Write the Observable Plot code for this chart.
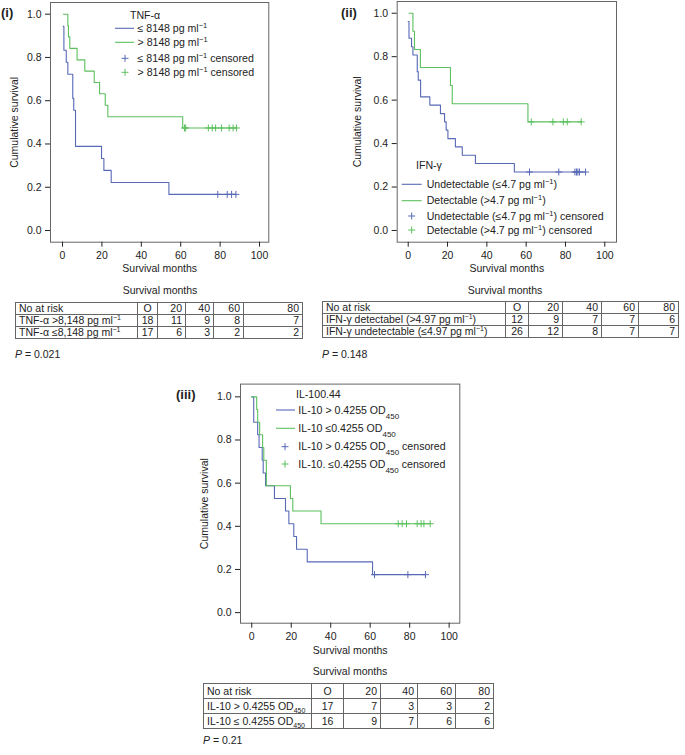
<!DOCTYPE html>
<html><head><meta charset="utf-8">
<script src="https://cdn.jsdelivr.net/npm/d3@7"></script>
<script src="https://cdn.jsdelivr.net/npm/@observablehq/plot@0.6"></script>
<style>
body{margin:0;width:685px;height:755px;position:relative;background:#fff;font-family:"Liberation Sans",Arial,sans-serif;color:#222;overflow:hidden}
.abs{position:absolute}
.plab{position:absolute;font-weight:bold;font-size:13px;line-height:13px}
table.risk{position:absolute;border-collapse:collapse;font-size:10.5px;table-layout:fixed}
table.risk td{border:1px solid #666;padding:0 3px;line-height:11px;text-align:right;white-space:nowrap;overflow:visible}
table.risk td:first-child{text-align:left}
table.risk td.c{text-align:center}
table.risk sup,table.risk sub{font-size:7px;line-height:0}
.cap{position:absolute;font-size:10.5px;line-height:10px;white-space:nowrap}
</style></head><body>
<script>
// ---------- data ----------
const xTicks = [0, 20, 40, 60, 80, 100];
const yTicks = [0, 0.2, 0.4, 0.6, 0.8, 1.0];
const riskMonths = ["O", "20", "40", "60", "80"];

// Panel (i) TNF-alpha
const tnfHighT = [0.5, 2.7, 3.0, 3.7, 7.4, 11.3, 16.1, 18.8, 21.7, 23.0, 61.0, 88.5];
const tnfHighS = [1.0, 0.947, 0.895, 0.842, 0.789, 0.737, 0.684, 0.632, 0.579, 0.526, 0.474, 0.474];
const tnfHighCens = [61.9, 62.5, 74.0, 76.0, 77.7, 80.7, 84.6, 86.6, 88.3];
const tnfLowT = [0.3, 0.7, 1.9, 2.7, 5.2, 5.7, 6.6, 19.8, 21.0, 24.7, 54.0, 88.0];
const tnfLowS = [0.944, 0.833, 0.778, 0.722, 0.611, 0.556, 0.389, 0.333, 0.278, 0.222, 0.167, 0.167];
const tnfLowCens = [78.8, 83.6, 85.8, 88.0];
const tnfRiskLabels = ["TNF-α >8,148 pg ml^{−1}", "TNF-α ≤8,148 pg ml^{−1}"];
const tnfRiskHigh = [18, 11, 9, 8, 7];
const tnfRiskLow = [17, 6, 3, 2, 2];
const tnfP = "0.021";

// Panel (ii) IFN-gamma
const ifnDetT = [0.4, 2.4, 3.2, 6.2, 21.5, 22.4, 60.9, 88.0];
const ifnDetS = [1.0, 0.917, 0.833, 0.75, 0.667, 0.583, 0.5, 0.5];
const ifnDetCens = [62.6, 73.6, 78.9, 80.9, 88.0];
const ifnUndT = [0, 0.4, 1.7, 2.4, 4.6, 5.1, 6.3, 11.0, 16.4, 18.5, 19.3, 20.2, 24.0, 27.5, 34.2, 54.0, 90.2];
const ifnUndS = [0.962, 0.885, 0.846, 0.808, 0.731, 0.692, 0.615, 0.577, 0.538, 0.5, 0.462, 0.423, 0.385, 0.346, 0.308, 0.269, 0.269];
const ifnUndCens = [61.7, 76.6, 84.8, 85.6, 86.3, 87.1, 90.2];
const ifnRiskLabels = ["IFN-γ detectabel (>4.97 pg ml^{−1})", "IFN-γ undetectable (≤4.97 pg ml^{−1})"];
const ifnRiskDet = [12, 9, 7, 7, 6];
const ifnRiskUnd = [26, 12, 8, 7, 7];
const ifnP = "0.148";

// Panel (iii) IL-10
const ilHighT = [0, 1.0, 3.0, 3.7, 5.3, 5.8, 7.0, 11.5, 17.1, 18.8, 21.3, 22.7, 28.1, 61.2, 88.0];
const ilHighS = [1.0, 0.882, 0.824, 0.765, 0.706, 0.647, 0.588, 0.529, 0.471, 0.412, 0.353, 0.294, 0.235, 0.176, 0.176];
const ilHighCens = [62.2, 79.1, 88.0];
const ilLowT = [0, 2.5, 3.0, 4.0, 5.5, 6.1, 7.4, 19.6, 20.8, 35.1, 90.4];
const ilLowS = [1.0, 0.941, 0.882, 0.824, 0.765, 0.706, 0.588, 0.529, 0.471, 0.412, 0.412];
const ilLowCens = [74.2, 76.2, 78.4, 83.8, 85.8, 87.2, 90.4];
const ilRiskLabels = ["IL-10 > 0.4255 OD_{450}", "IL-10 ≤ 0.4255 OD_{450}"];
const ilRiskHigh = [17, 7, 3, 3, 2];
const ilRiskLow = [16, 9, 7, 6, 6];
const ilP = "0.21";

const BLUE = "#5869b6", GREEN = "#5cc05e";

// ---------- helpers ----------
function curve(T, S) { return T.map((t, i) => ({t, s: S[i]})); }
function cens(T, S, C) { return C.map(t => ({t, s: S[Math.max(0, d3.bisectRight(T, t) - 1)]})); }
function rich(sel, str) {
  str.split(/(\^\{[^}]*\}|_\{[^}]*\})/).forEach(p => {
    if (!p) return;
    if (p.startsWith("^{")) sel.append("tspan").attr("baseline-shift", "super").attr("font-size", "7.5px").text(p.slice(2, -1));
    else if (p.startsWith("_{")) sel.append("tspan").attr("baseline-shift", "sub").attr("font-size", "8px").text(p.slice(2, -1));
    else sel.append("tspan").text(p);
  });
}
function richHTML(str) {
  return str.replace(/\^\{([^}]*)\}/g, "<sup>$1</sup>").replace(/_\{([^}]*)\}/g, "<sub>$1</sub>");
}

function panel(o) {
  const marks = [
    Plot.frame({stroke: "#666"}),
    Plot.axisX({ticks: xTicks, tickSize: 5, label: "Survival months", labelAnchor: "center", labelArrow: "none", labelOffset: o.xLabelOffset}),
    Plot.axisY({ticks: yTicks, tickSize: 5, tickFormat: ".1f", label: "Cumulative survival", labelAnchor: "center", labelArrow: "none", labelOffset: o.yLabelOffset})
  ];
  for (const s of o.series) {
    marks.push(Plot.line(curve(s.T, s.S), {x: "t", y: "s", curve: "step-after", stroke: s.color, strokeWidth: 1.1}));
    marks.push(Plot.dot(cens(s.T, s.S, s.C), {x: "t", y: "s", symbol: "plus", r: 2.4, stroke: s.color, strokeWidth: 1}));
  }
  const svg = Plot.plot({
    width: o.width, height: o.height,
    marginLeft: o.ml, marginRight: o.mr, marginTop: o.mt, marginBottom: o.mb,
    x: {domain: o.xd}, y: {domain: o.yd},
    style: {fontFamily: '"Liberation Sans", Arial, sans-serif', fontSize: "10.5px", color: "#222", background: "transparent", overflow: "visible"},
    marks
  });
  const div = document.createElement("div");
  div.className = "abs";
  div.style.left = o.left + "px"; div.style.top = o.top + "px";
  div.appendChild(svg);
  document.body.appendChild(div);
  // legend
  const g = d3.select(svg).append("g").attr("font-size", "10.6px").attr("fill", "#222").attr("text-anchor", "start");
  const L = o.legend;
  g.append("text").attr("x", L.titleX - o.left).attr("y", L.titleY - o.top).attr("dy", "0.35em").text(L.title);
  L.items.forEach((it, i) => {
    const y = L.ys[i] - o.top;
    if (it.kind === "line") g.append("line").attr("x1", L.lx1 - o.left).attr("x2", L.lx2 - o.left).attr("y1", y).attr("y2", y).attr("stroke", it.color).attr("stroke-width", 1.1);
    else g.append("path").attr("d", `M${L.px - o.left - 3.5},${y}h7M${L.px - o.left},${y - 3.5}v7`).attr("stroke", it.color).attr("stroke-width", 1);
    rich(g.append("text").attr("x", L.tx - o.left).attr("y", y).attr("dy", "0.35em"), it.text);
  });
}

function riskTable(o) {
  const t = document.createElement("table");
  t.className = "risk";
  t.style.left = o.left + "px"; t.style.top = o.top + "px";
  const cg = o.widths.map(w => `<col style="width:${w}px">`).join("");
  const row = (cells, h) => `<tr style="height:${h}px">` + cells.map((c, i) => `<td${i === 1 ? ' class="c"' : ""}>${c}</td>`).join("") + "</tr>";
  t.innerHTML = `<colgroup>${cg}</colgroup>` +
    row(["No at risk", ...riskMonths], o.rowH) +
    row([richHTML(o.labels[0]), ...o.r1], o.rowH) +
    row([richHTML(o.labels[1]), ...o.r2], o.rowH);
  document.body.appendChild(t);
}
function cap(html, x, y, anchor) {
  const d = document.createElement("div");
  d.className = "cap"; d.innerHTML = html;
  d.style.left = x + "px"; d.style.top = (y - 5) + "px";
  if (anchor === "middle") d.style.transform = "translateX(-50%)";
  document.body.appendChild(d);
}
function plab(txt, x, y) {
  const d = document.createElement("div");
  d.className = "plab"; d.textContent = txt;
  d.style.left = x + "px"; d.style.top = (y - 6.5) + "px";
  document.body.appendChild(d);
}

// ---------- panel (i) ----------
panel({
  left: 0, top: 0, width: 285, height: 285, ml: 50, mr: 16.7, mt: 2, mb: 43.3,
  xd: [-6.1, 104.7], yd: [-0.054, 1.054], xLabelOffset: 30, yLabelOffset: 40,
  series: [
    {T: tnfLowT, S: tnfLowS, C: tnfLowCens, color: BLUE},
    {T: tnfHighT, S: tnfHighS, C: tnfHighCens, color: GREEN}
  ],
  legend: {title: "TNF-α", titleX: 130, titleY: 15, lx1: 115, lx2: 134, px: 125, tx: 137.5, ys: [28.3, 42.3, 58.3, 72.3],
    items: [
      {kind: "line", color: BLUE, text: "≤ 8148 pg ml^{−1}"},
      {kind: "line", color: GREEN, text: "> 8148 pg ml^{−1}"},
      {kind: "plus", color: BLUE, text: "≤ 8148 pg ml^{−1} censored"},
      {kind: "plus", color: GREEN, text: "> 8148 pg ml^{−1} censored"}
    ]}
});
plab("(i)", 1, 12.7);
cap("Survival months", 160, 290, "middle");
riskTable({left: 15, top: 302, widths: [122, 20, 28, 28, 30, 59], rowH: 12, labels: tnfRiskLabels, r1: tnfRiskHigh, r2: tnfRiskLow});
cap("<i>P</i> = " + tnfP, 15, 354);

// ---------- panel (ii) ----------
panel({
  left: 340, top: 0, width: 285, height: 285, ml: 56.7, mr: 9, mt: 1, mb: 43.3,
  xd: [-5.6, 105.95], yd: [-0.054, 1.054], xLabelOffset: 30, yLabelOffset: 43.7,
  series: [
    {T: ifnUndT, S: ifnUndS, C: ifnUndCens, color: BLUE},
    {T: ifnDetT, S: ifnDetS, C: ifnDetCens, color: GREEN}
  ],
  legend: {title: "IFN-γ", titleX: 416, titleY: 165, lx1: 401.7, lx2: 421.7, px: 411.7, tx: 426.7, ys: [184.3, 200.7, 216, 230],
    items: [
      {kind: "line", color: BLUE, text: "Undetectable (≤4.7 pg ml^{−1})"},
      {kind: "line", color: GREEN, text: "Detectable (>4.7 pg ml^{−1})"},
      {kind: "plus", color: BLUE, text: "Undetectable (≤4.7 pg ml^{−1}) censored"},
      {kind: "plus", color: GREEN, text: "Detectable (>4.7 pg ml^{−1}) censored"}
    ]}
});
plab("(ii)", 341, 12.7);
cap("Survival months", 505, 290, "middle");
riskTable({left: 322, top: 301, widths: [183, 23, 34, 39, 37, 40], rowH: 12, labels: ifnRiskLabels, r1: ifnRiskDet, r2: ifnRiskUnd});
cap("<i>P</i> = " + ifnP, 322, 354);

// ---------- panel (iii) ----------
panel({
  left: 180, top: 380, width: 285, height: 290, ml: 60, mr: 5.7, mt: 3.6, mb: 47.3,
  xd: [-5.7, 105.4], yd: [-0.049, 1.059], xLabelOffset: 30.6, yLabelOffset: 40,
  series: [
    {T: ilHighT, S: ilHighS, C: ilHighCens, color: BLUE},
    {T: ilLowT, S: ilLowS, C: ilLowCens, color: GREEN}
  ],
  legend: {title: "IL-100.44", titleX: 296, titleY: 394, lx1: 276, lx2: 295, px: 285, tx: 298.3, ys: [410, 428.3, 446.7, 464],
    items: [
      {kind: "line", color: BLUE, text: "IL-10 > 0.4255 OD_{450}"},
      {kind: "line", color: GREEN, text: "IL-10 ≤0.4255 OD_{450}"},
      {kind: "plus", color: BLUE, text: "IL-10 > 0.4255 OD_{450} censored"},
      {kind: "plus", color: GREEN, text: "IL-10. ≤0.4255 OD_{450} censored"}
    ]}
});
plab("(iii)", 176, 394);
cap("Survival months", 350, 671, "middle");
riskTable({left: 203, top: 683, widths: [108, 32, 37, 37, 38, 38], rowH: 15, labels: ilRiskLabels, r1: ilRiskHigh, r2: ilRiskLow});
cap("<i>P</i> = " + ilP, 203, 740);
</script></body></html>
